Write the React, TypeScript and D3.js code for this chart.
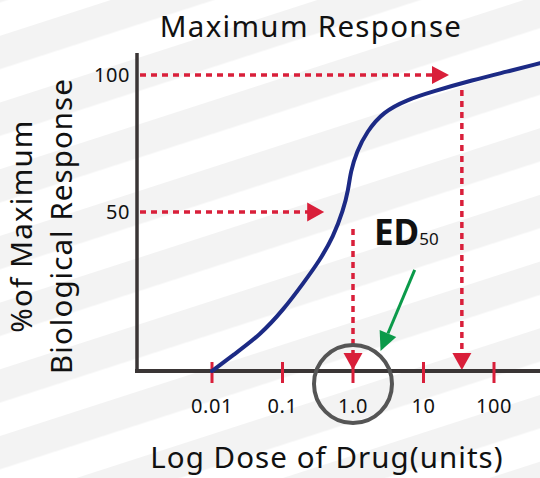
import React from "react";
import * as d3 from "d3";

// dose-response curve
const doses = [0.01, 0.02, 0.048, 0.1026, 0.197, 0.34, 0.526, 0.728, 0.857, 0.922, 1.128, 1.563, 2.69, 5.78, 13.06, 50.8, 151.4, 449];
const responses = [-8, -2.2, 5.1, 14.3, 24.0, 32.5, 41.0, 50.7, 58.0, 64.6, 72.0, 79.3, 86.6, 90.9, 93.9, 98.2, 101.2, 104.3];

const xTicks = [0.01, 0.1, 1, 10, 100];
const xTickLabels = ["0.01", "0.1", "1.0", "10", "100"];
const yTicks = [50, 100];
const yTickLabels = ["50", "100"];

// annotation anchors (data units)
const ed50Dose = 1.0;
const halfArrowEnd = 0.39;
const maxDose = 35;
const maxArrowEnd = 23;
const greenFrom = { dose: 7.5, resp: 28.9 };
const greenTo = { dose: 2.46, resp: -0.7 };

const W = 540;
const H = 478;
const FONT = "'Noto Sans', 'Open Sans', sans-serif";
const RED = "#d91f3a";
const BLUE = "#1c2a85";
const GREEN = "#0b9a4a";
const AXIS = "#3a3535";

const App = () => {
  const x = d3.scaleLog().domain([0.01, 100]).range([212, 494]);
  const y = d3.scaleLinear().domain([-8, 100]).range([371, 75]);
  const axisLeft = 137;
  const axisRight = W;
  const baseY = y(-8);

  const curve = d3
    .line<number>()
    .x((d, i) => x(doses[i]))
    .y((d) => y(d))
    .curve(d3.curveBasis);

  const tri = (tx: number, ty: number, dir: "right" | "down", len: number, half: number) =>
    dir === "right"
      ? `M${tx},${ty} L${tx - len},${ty - half} L${tx - len},${ty + half} Z`
      : `M${tx},${ty} L${tx - half},${ty - len} L${tx + half},${ty - len} Z`;

  // green arrow geometry
  const gx1 = x(greenFrom.dose), gy1 = y(greenFrom.resp);
  const gx2 = x(greenTo.dose), gy2 = y(greenTo.resp);
  const dl = Math.hypot(gx2 - gx1, gy2 - gy1);
  const ux = (gx2 - gx1) / dl, uy = (gy2 - gy1) / dl;
  const hl = 19, hw = 9;
  const bx = gx2 - ux * hl, by = gy2 - uy * hl;
  const greenHead = `M${gx2},${gy2} L${bx - uy * hw},${by + ux * hw} L${bx + uy * hw},${by - ux * hw} Z`;

  return (
    <svg width={W} height={H} style={{ position: "absolute", left: 0, top: 0 }} fontFamily={FONT}>
      <defs>
        <pattern id="stripes" patternUnits="userSpaceOnUse" width={20} height={66.7}
          patternTransform="skewY(-17.9) translate(0,35.8)">
          <rect x={0} y={0} width={20} height={66.7} fill="#ffffff" />
          <rect x={0} y={0} width={20} height={33.3} fill="#f3f3f3" />
        </pattern>
      </defs>
      <rect x={0} y={0} width={W} height={H} fill="url(#stripes)" />

      <text x={311} y={37} textAnchor="middle" fontSize={29.5} letterSpacing={1.3} fill="#111">Maximum Response</text>

      {/* dashed guides */}
      <g stroke={RED} strokeWidth={3.5} strokeDasharray="6 5" fill="none">
        <line x1={axisLeft + 3} x2={x(maxArrowEnd) - 16} y1={y(100)} y2={y(100)} />
        <line x1={axisLeft + 3} x2={x(halfArrowEnd) - 16} y1={y(50)} y2={y(50)} />
        <line x1={x(maxDose)} x2={x(maxDose)} y1={y(94.5)} y2={baseY - 17} />
        <line x1={x(ed50Dose)} x2={x(ed50Dose)} y1={y(43.8)} y2={baseY - 17} />
      </g>
      <g fill={RED}>
        <path d={tri(x(maxArrowEnd), y(100), "right", 17, 9)} />
        <path d={tri(x(halfArrowEnd), y(50), "right", 17, 9.5)} />
        <path d={tri(x(maxDose), baseY - 1, "down", 17, 9.5)} />
        <path d={tri(x(ed50Dose), baseY - 1, "down", 17, 9.5)} />
      </g>

      {/* axes */}
      <line x1={axisLeft} x2={axisLeft} y1={53} y2={baseY + 2} stroke={AXIS} strokeWidth={3.5} />
      <line x1={axisLeft - 2} x2={axisRight} y1={baseY} y2={baseY} stroke={AXIS} strokeWidth={4} />

      {xTicks.map((t, i) => (
        <g key={t}>
          <line x1={x(t)} x2={x(t)} y1={baseY - 9} y2={baseY + 12} stroke={RED} strokeWidth={3} />
          <text x={x(t)} y={413} textAnchor="middle" fontSize={20} letterSpacing={0.6} fill="#111">{xTickLabels[i]}</text>
        </g>
      ))}
      {yTicks.map((t, i) => (
        <text key={t} x={130} y={y(t)} dy="0.35em" textAnchor="end" fontSize={20} letterSpacing={0.6} fill="#111">{yTickLabels[i]}</text>
      ))}

      {/* curve */}
      <path d={curve(responses) || ""} fill="none" stroke={BLUE} strokeWidth={4} strokeLinecap="round" />

      {/* ED50 highlight */}
      <circle cx={x(ed50Dose)} cy={baseY + 13} r={39} fill="none" stroke="#555" strokeWidth={4} />
      <line x1={gx1} y1={gy1} x2={bx} y2={by} stroke={GREEN} strokeWidth={3} />
      <path d={greenHead} fill={GREEN} />
      <text x={374} y={245} fontSize={35} fontWeight="bold" fill="#111">
        ED<tspan fontSize={17} fontWeight="normal">50</tspan>
      </text>

      {/* axis titles */}
      <text x={327} y={468} textAnchor="middle" fontSize={29.5} letterSpacing={1.05} fill="#111">Log Dose of Drug(units)</text>
      <g transform="translate(32,226) rotate(-90)">
        <text x={0} y={0} textAnchor="middle" fontSize={29.5} letterSpacing={1.2} fill="#111">%of Maximum</text>
        <text x={0} y={40} textAnchor="middle" fontSize={29.5} letterSpacing={1.05} fill="#111">Biological Response</text>
      </g>
    </svg>
  );
};

export default App;
